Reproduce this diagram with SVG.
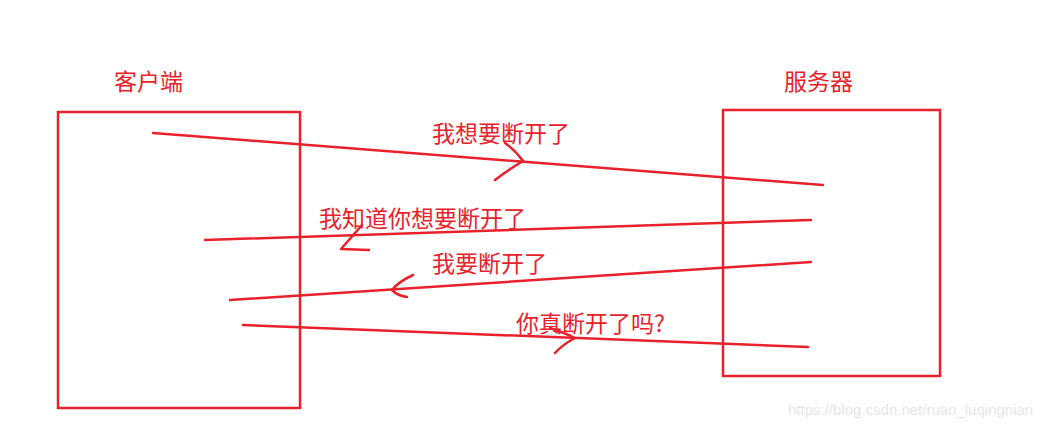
<svg xmlns="http://www.w3.org/2000/svg" width="1056" height="427" viewBox="0 0 1056 427">
<style>
.box{fill:none;stroke:#e8212b;stroke-width:2.5}
.ln{fill:none;stroke:#e8212b;stroke-width:2.5;stroke-linecap:round;stroke-linejoin:round}
.t{font-family:"Noto Sans CJK SC","Liberation Sans",sans-serif;font-size:23px;fill:#e8212b}
.wm{font-family:"Liberation Sans",sans-serif;font-size:15px;fill:#e6e6e6}
</style>
<rect width="1056" height="427" fill="#ffffff"/>
<g id="client">
<rect class="box" x="58" y="112" width="242" height="296"/>
<text class="t" x="114" y="90">客户端</text>
</g>
<g id="server">
<rect class="box" x="723" y="110" width="217" height="266"/>
<text class="t" x="784" y="90">服务器</text>
</g>
<g id="connectors">
<line class="ln" x1="153" y1="133" x2="823" y2="185"/>
<path class="ln" d="M505,143 Q515,150 523,161 Q508,170 495,180"/>
<line class="ln" x1="205" y1="240" x2="811" y2="220"/>
<path class="ln" d="M362,225 L341,249 L369,250"/>
<line class="ln" x1="230" y1="300" x2="811" y2="262"/>
<path class="ln" d="M413,275 Q398,282 392,290 Q398,296 407,297"/>
<line class="ln" x1="243" y1="325" x2="808" y2="347"/>
<path class="ln" d="M550,328 Q565,333 575,338 Q562,345 555,353"/>
</g>
<g id="labels">
<text class="t" x="432" y="142">我想要断开了</text>
<text class="t" x="319" y="227">我知道你想要断开了</text>
<text class="t" x="432" y="272">我要断开了</text>
<text class="t" x="516" y="332">你真断开了吗?</text>
</g>
<text class="wm" x="788" y="415">https://blog.csdn.net/ruan_luqingnian</text>
</svg>
